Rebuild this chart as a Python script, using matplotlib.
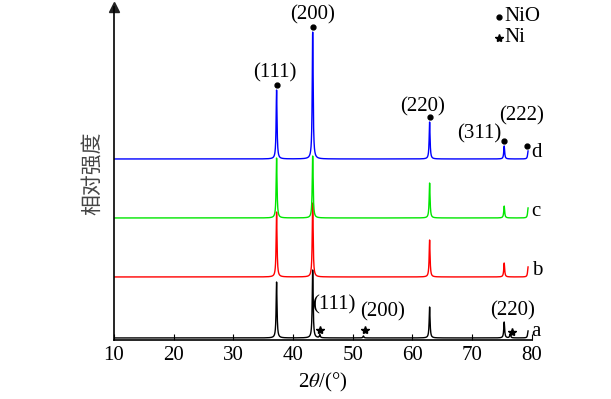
"""XRD 图谱复现 (NiO / Ni)."""

import numpy as np
import matplotlib
matplotlib.use("Agg")
import matplotlib.pyplot as plt

plt.rcParams["font.family"] = ["Liberation Serif", "DejaVu Serif"]
plt.rcParams["mathtext.fontset"] = "stix"

# 样品标签、颜色与竖直偏移
samples = ["a", "b", "c", "d"]
colors = ["#000000", "#ff0000", "#00e600", "#0000ff"]
offsets = [2, 63, 122, 181]

# 各样品的衍射峰位置 (2θ) 与峰高
peak_pos = {
    "a": [37.25, 43.3, 44.5, 51.8, 62.9, 75.4, 76.4, 79.4],
    "b": [37.25, 43.3, 62.9, 75.4, 79.4],
    "c": [37.25, 43.3, 62.9, 75.4, 79.4],
    "d": [37.25, 43.3, 62.9, 75.4, 79.4],
}
peak_height = {
    "a": [56, 68, 3, 2, 31, 16, 4, 7],
    "b": [65, 74, 37, 14, 10],
    "c": [60, 62, 35, 12, 10],
    "d": [69, 127, 37, 13, 8],
}

# NiO 晶面标注 (d 曲线)
nio_hkl = ["(111)", "(200)", "(220)", "(311)", "(222)"]
nio_pos = [37.25, 43.3, 62.9, 75.4, 79.3]
# Ni 晶面标注 (a 曲线)
ni_hkl = ["(111)", "(200)", "(220)"]
ni_pos = [44.5, 52.0, 76.7]

x = np.linspace(10, 79.4, 4000)
width = 0.09

fig = plt.figure(figsize=(6.11, 3.99), dpi=100)
ax = fig.add_axes([0.1866, 0.148, 0.6835, 0.8345])

for s, c, off in zip(samples, colors, offsets):
    y = np.full_like(x, float(off))
    for p, h in zip(peak_pos[s], peak_height[s]):
        y += h * width**2 / ((x - p) ** 2 + width**2)
    ax.plot(x, y, color=c, lw=1.0)
    ax.text(80.0, off + 6, s, fontsize=15, va="center", ha="left")

# NiO 标记
d_off = offsets[3]
for i, p in enumerate(nio_pos):
    h = peak_height["d"][i]
    ax.plot(p, d_off + h + 5, "o", color="k", ms=3.5, clip_on=False)
lab_xy = [(36.9, 267), (43.3, 325), (61.8, 233), (71.3, 206), (78.3, 224)]
for lab, (lx, ly) in zip(nio_hkl, lab_xy):
    ax.text(lx, ly, lab, fontsize=15, ha="center", va="center")

# Ni 标记
star_y = [10, 10, 8]
for p, sy in zip(ni_pos, star_y):
    ax.plot(p, sy, "*", color="k", ms=6)
ni_lab_xy = [(46.8, 35), (55.0, 28), (76.8, 29)]
for lab, (lx, ly) in zip(ni_hkl, ni_lab_xy):
    ax.text(lx, ly, lab, fontsize=15, ha="center", va="center")

# 图例
ax.plot(74.6, 323, "o", color="k", ms=3.5, clip_on=False)
ax.text(75.4, 323, "NiO", fontsize=15, va="center", ha="left")
ax.plot(74.6, 302, "*", color="k", ms=6, clip_on=False)
ax.text(75.4, 302, "Ni", fontsize=15, va="center", ha="left")

ax.set_xlim(10, 80)
ax.set_ylim(0, 333)
ax.set_xticks(np.arange(10, 81, 10))
ax.tick_params(axis="x", direction="in", length=4, labelsize=15, pad=4)
ax.set_yticks([])
ax.spines["top"].set_visible(False)
ax.spines["right"].set_visible(False)
ax.spines["left"].set_linewidth(1.2)
ax.spines["bottom"].set_linewidth(1.2)
ax.plot(0, 1, "^", color="#222222", ms=7, transform=ax.transAxes, clip_on=False)

ax.set_xlabel(r"2$\theta$/(°)", fontsize=15, labelpad=5)
ax.set_ylabel("相对强度", fontsize=15, family=["Noto Sans CJK SC", "DejaVu Sans"],
              color="#444444", labelpad=8)

fig.savefig("out.png", dpi=100)
